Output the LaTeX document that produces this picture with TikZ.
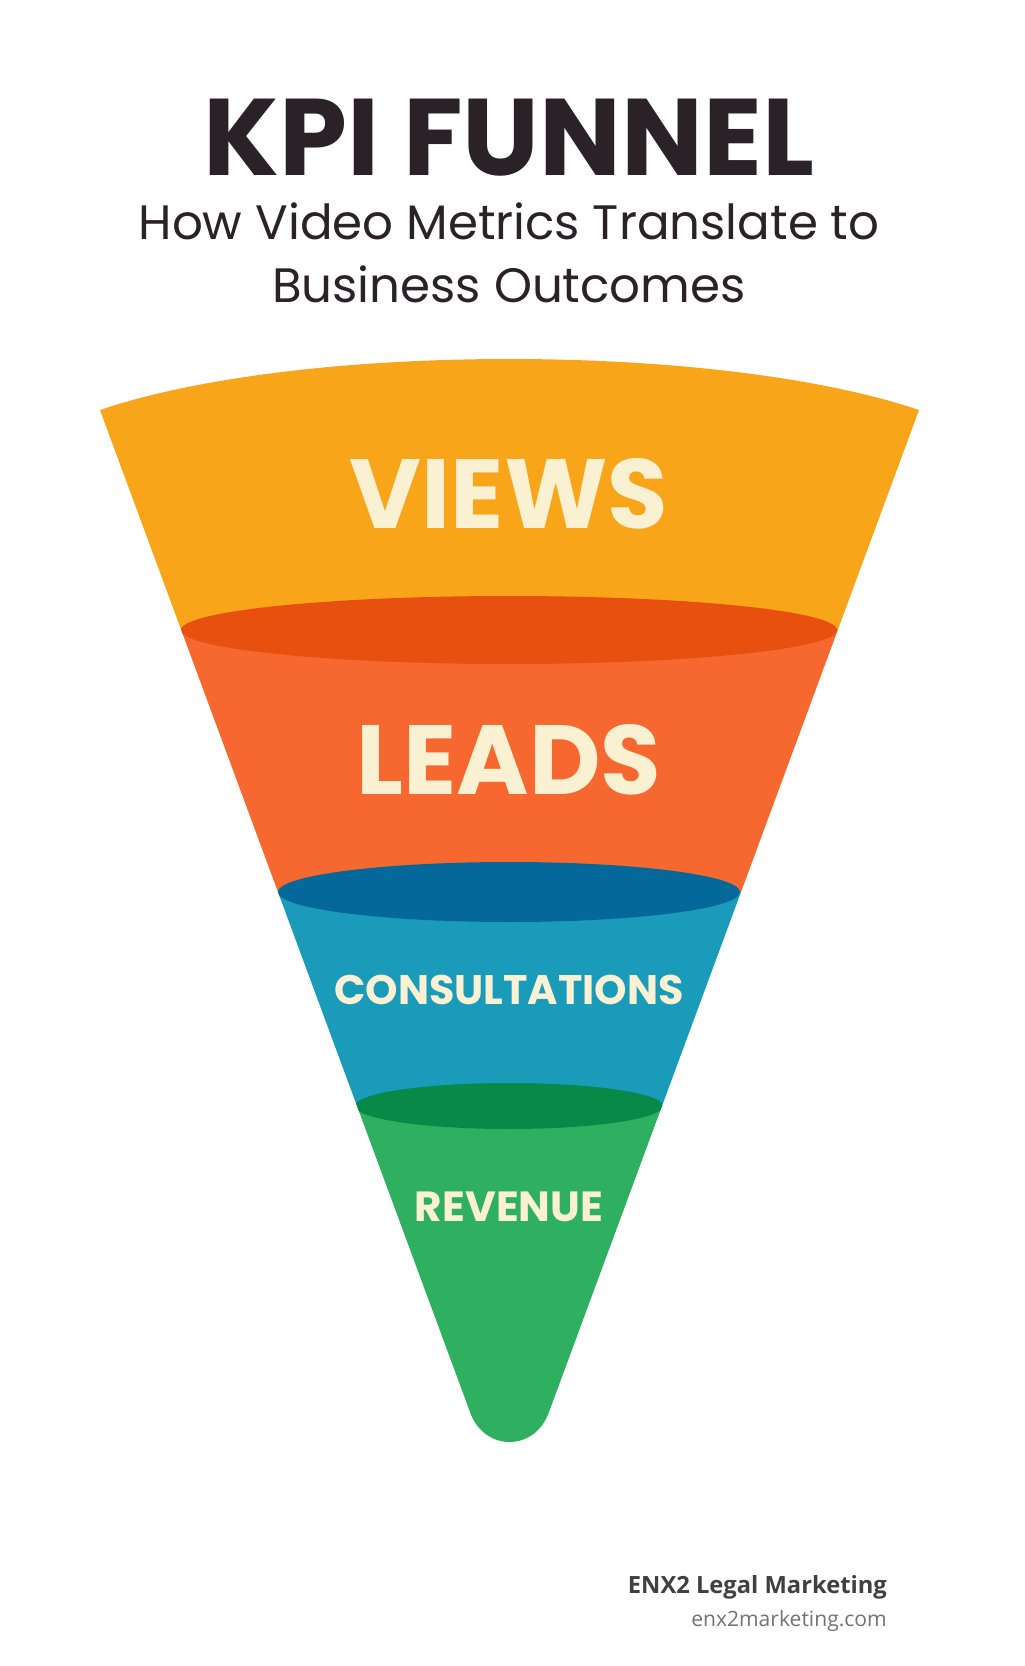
\documentclass[tikz,border=0pt]{standalone}
\usepackage{fontspec}
\setmainfont{Poppins}
\newfontfamily\foot{Open Sans}
\definecolor{cy}{HTML}{F9A51A}\definecolor{cyd}{HTML}{E8500F}
\definecolor{co}{HTML}{F6682F}\definecolor{cbd}{HTML}{04689A}
\definecolor{cb}{HTML}{1A9BBA}\definecolor{cgd}{HTML}{078A48}
\definecolor{cg}{HTML}{2FB060}\definecolor{cream}{HTML}{FAF0D2}
\definecolor{ink}{HTML}{2A2226}
\tikzset{lbl/.style={text=cream,font=\bfseries}}
\begin{document}
\begin{tikzpicture}[x=0.02cm,y=-0.02cm]
\useasboundingbox (0,0) rectangle (1024,1666);
\node[ink,font=\fontsize{62}{62}\selectfont\bfseries] (title) at (509,138) {KPI FUNNEL};
\node[ink,font=\fontsize{27.5}{36}\selectfont,align=center] (sub) at (509,253) {How Video Metrics Translate to\\Business Outcomes};
\begin{scope}
\clip (100,410) .. controls (300,342) and (718,342) .. (919,410) -- (549,1412) .. controls (535,1452) and (484,1452) .. (470,1412) -- cycle;
\fill[cy] (0,300) rectangle (1024,630);
\fill[co] (0,630) rectangle (1024,892);
\fill[cb] (0,892) rectangle (1024,1106);
\fill[cg] (0,1106) rectangle (1024,1500);
\fill[cyd] (509,630) ellipse[x radius=328,y radius=34];
\fill[cbd] (509,892) ellipse[x radius=231,y radius=30];
\fill[cgd] (509,1106) ellipse[x radius=154,y radius=23];
\end{scope}
\node[lbl,font=\fontsize{56}{56}\selectfont\bfseries] (v) at (509,494) {VIEWS};
\node[lbl,font=\fontsize{56}{56}\selectfont\bfseries] (l) at (509,760) {LEADS};
\node[lbl,font=\fontsize{23.5}{24}\selectfont\bfseries] (c) at (509,990) {CONSULTATIONS};
\node[lbl,font=\fontsize{24}{24}\selectfont\bfseries] (r) at (509,1207) {REVENUE};
\node[anchor=east,text=black!75,font=\foot\fontsize{13.5}{14}\selectfont\bfseries] (e) at (893,1587) {ENX2 Legal Marketing};
\node[anchor=east,text=black!55,font=\foot\fontsize{12}{12}\selectfont] (u) at (893,1621) {enx2marketing.com};
\end{tikzpicture}
\end{document}
